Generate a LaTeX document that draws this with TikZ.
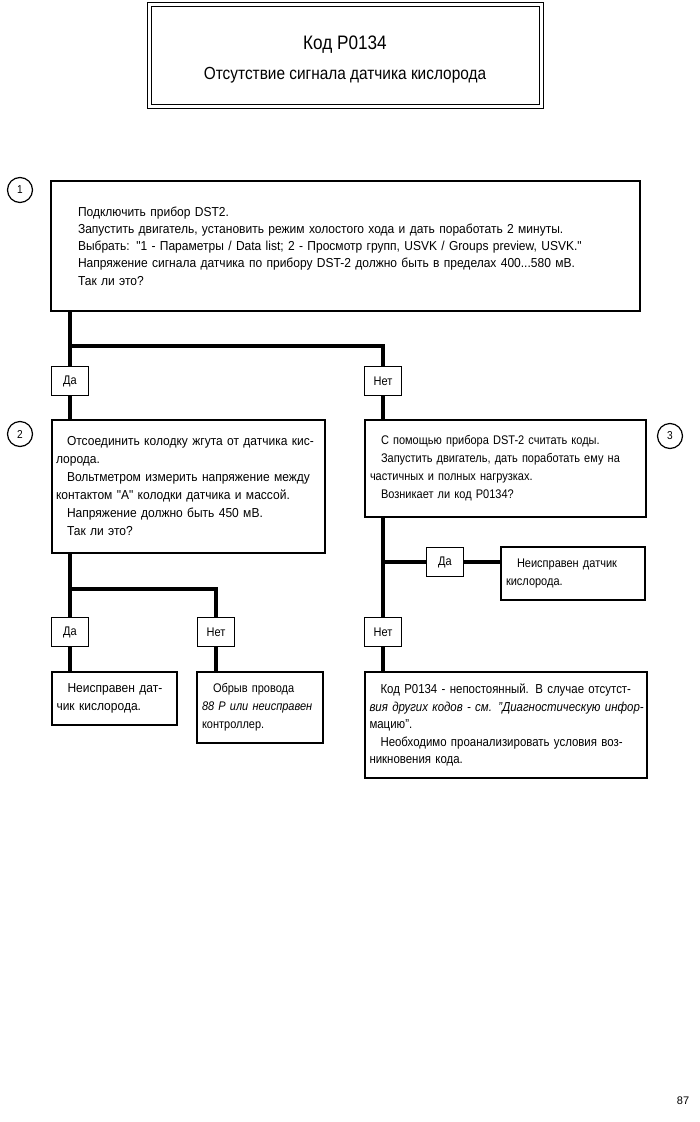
\documentclass[tikz,border=0pt]{standalone}
\usepackage{fontspec}
\setmainfont{Liberation Sans}[FakeStretch=0.88]
\newfontfamily\bigf{Liberation Sans}[FakeStretch=0.925]
\newfontfamily\pagefont{Liberation Sans}
\newcommand\J[1]{\leavevmode\hbox to\hsize{#1}}
\newcommand\I{\hspace*{11pt}}
\tikzset{
  box/.style={draw, line width=1.1pt, inner ysep=0pt, align=left,
    font=\fontsize{12.5}{18}\selectfont},
  bigtext/.style={font=\bigf\fontsize{13}{18}\selectfont},
  lbl/.style={draw, line width=1.1pt, minimum width=37pt, minimum height=29pt,
    inner sep=0pt, font=\fontsize{12.5}{12}\selectfont},
  num/.style={draw, circle, line width=1.2pt, minimum size=25pt, inner sep=0pt,
    font=\fontsize{11.5}{12}\selectfont},
  conn/.style={line width=3.3pt},
  frame/.style={draw, line width=1.1pt, double=white, double distance=3pt,
    minimum width=392pt, minimum height=102pt, inner sep=0pt}
}
\begin{document}
\begin{tikzpicture}[x=1pt,y=-1pt]
\useasboundingbox (0,0) rectangle (699,1122);
% title
\node[frame] (title) at (345.5,55.5) {};
\node[font=\fontsize{19.5}{20}\selectfont] (t1) at (345,45) {Код P0134};
\node[font=\fontsize{17.5}{18}\selectfont] (t2) at (345,75) {Отсутствие сигнала датчика кислорода};
% step 1
\node[num] (n1) at (20,190) {1};
\node[box, font=\bigf\fontsize{13}{17.2}\selectfont, text width=535pt, inner xsep=27pt, minimum height=130pt] (box1) at (345.5,246) {%
Подключить прибор DST2.\\
Запустить двигатель, установить режим холостого хода и дать поработать 2 минуты.\\
Выбрать: "1 - Параметры / Data list; 2 - Просмотр групп, USVK / Groups preview, USVK."\\
Напряжение сигнала датчика по прибору DST-2 должно быть в пределах 400...580 мВ.\\
Так ли это?};
\node[lbl] (da1) at (70,381) {Да};
\node[lbl] (net1) at (383,381) {Нет};
% step 2
\node[num] (n2) at (20,434) {2};
\node[box, bigtext, text width=265pt, inner xsep=4pt, minimum height=133pt] (box2) at (188.5,486.5) {%
\J{\I Отсоединить колодку жгута от датчика кис-}\\
лорода.\\
\J{\I Вольтметром измерить напряжение между}\\
контактом "A" колодки датчика и массой.\\
\I Напряжение должно быть 450 мВ.\\
\I Так ли это?};
% step 3
\node[num] (n3) at (670,436) {3};
\node[box, text width=271pt, inner xsep=5pt, minimum height=97pt] (box3) at (505.5,468.5) {%
\I С помощью прибора DST-2 считать коды.\\
\J{\I Запустить двигатель, дать поработать ему на}\\
частичных и полных нагрузках.\\
\I Возникает ли код P0134?};
\node[lbl] (da3) at (445,562) {Да};
\node[box, text width=134pt, inner xsep=5pt, minimum height=53pt] (fault3) at (573,573.5) {%
\J{\I Неисправен датчик}\\
кислорода.};
\node[lbl] (net3) at (383,632) {Нет};
\node[box, font=\fontsize{13}{17.5}\selectfont, text width=273pt, inner xsep=4.5pt, minimum height=106pt] (box5) at (506,725) {%
\J{\I Код P0134 - непостоянный. В случае отсутст-}\\
\J{\itshape вия других кодов - см. "Диагностическую инфор-}\\
мацию".\\
\J{\I Необходимо проанализировать условия воз-}\\
никновения кода.};
% step 2 branches
\node[lbl] (da2) at (70,632) {Да};
\node[lbl] (net2) at (216,632) {Нет};
\node[box, bigtext, text width=116pt, inner xsep=4.5pt, minimum height=53pt] (box6) at (114.5,698.5) {%
\J{\I Неисправен дат-}\\
чик кислорода.};
\node[box, text width=116pt, inner xsep=5pt, minimum height=71pt] (box7) at (260,707.5) {%
\J{\I Обрыв провода}\\
\J{\itshape 88 P или неисправен}\\
контроллер.};
% page number
\node[font=\pagefont\fontsize{11}{12}\selectfont] (page) at (683,1101) {87};
% connectors
\coordinate (j1) at (70,346);
\coordinate (j2) at (70,589);
\coordinate (j3) at (383,562);
\draw[conn] (box1.south -| da1.north) -- (da1.north);
\draw[conn] (j1) -| (net1.north);
\draw[conn] (da1.south) -- (da1.south |- box2.north);
\draw[conn] (net1.south) -- (net1.south |- box3.north);
\draw[conn] (box3.south -| net3.north) -- (net3.north);
\draw[conn] (j3) -- (da3.west);
\draw[conn] (da3.east) -- (da3.east -| fault3.west);
\draw[conn] (net3.south) -- (net3.south |- box5.north);
\draw[conn] (box2.south -| da2.north) -- (da2.north);
\draw[conn] (j2) -| (net2.north);
\draw[conn] (da2.south) -- (da2.south |- box6.north);
\draw[conn] (net2.south) -- (net2.south |- box7.north);
\end{tikzpicture}
\end{document}
